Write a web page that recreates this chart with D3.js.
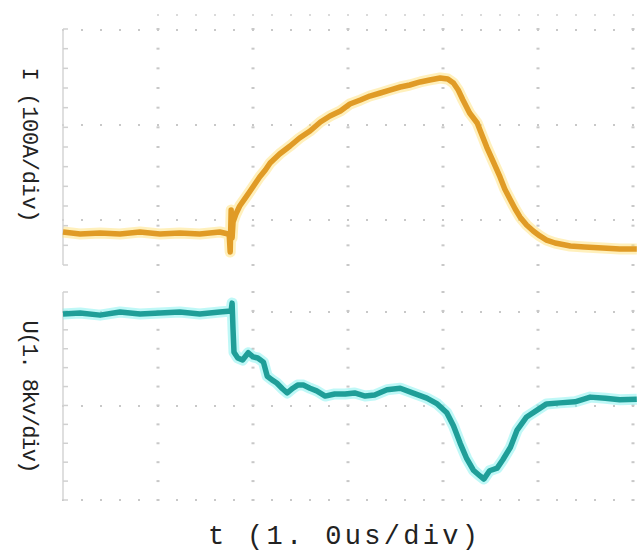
<!DOCTYPE html>
<html>
<head>
<meta charset="utf-8">
<script src="https://cdn.jsdelivr.net/npm/d3@7"></script>
<style>
  html, body { margin: 0; padding: 0; background: #fff; }
  svg { display: block; }
</style>
</head>
<body>
<div id="chart"></div>
<script>
// time in us, current in A (grid line at 0 A), voltage in kV
const timeI = [0.00, 0.18, 0.39, 0.60, 0.81, 1.02, 1.23, 1.44, 1.65, 1.74, 1.75, 1.76, 1.77, 1.78, 1.79,
  1.82, 1.86, 1.92, 1.97, 2.02, 2.07, 2.13, 2.18, 2.28, 2.39, 2.49, 2.60, 2.71, 2.81, 2.92, 3.02,
  3.13, 3.23, 3.34, 3.44, 3.55, 3.65, 3.76, 3.86, 3.97, 4.05, 4.11, 4.16, 4.21, 4.28, 4.36, 4.41,
  4.46, 4.53, 4.60, 4.65, 4.71, 4.76, 4.81, 4.88, 4.95, 5.02, 5.09, 5.18, 5.34, 5.49, 5.68, 5.86, 6.04];
const current = [-12.6, -14.7, -13.7, -14.7, -12.6, -14.7, -13.7, -14.7, -12.6, -14.7, -16.8, -33.7, 10.5, -18.9, -2.1,
  6.3, 14.7, 23.2, 30.5, 37.9, 45.3, 52.6, 60.0, 69.5, 77.9, 86.3, 93.7, 103.2, 109.5, 114.7, 122.1,
  126.3, 130.5, 133.7, 136.8, 140.0, 142.1, 145.3, 147.4, 149.5, 148.4, 144.2, 136.8, 126.3, 112.6, 102.1, 89.5,
  76.8, 61.1, 45.3, 32.6, 21.1, 11.6, 3.2, -5.3, -11.6, -16.8, -21.1, -24.2, -27.4, -28.4, -29.5, -30.5, -30.5];

const timeU = [0.00, 0.18, 0.39, 0.60, 0.81, 1.02, 1.23, 1.44, 1.65, 1.77, 1.78, 1.79, 1.80, 1.84, 1.89,
  1.95, 2.00, 2.05, 2.11, 2.15, 2.20, 2.25, 2.31, 2.36, 2.42, 2.47, 2.53, 2.60, 2.67, 2.76, 2.86,
  2.97, 3.07, 3.18, 3.28, 3.41, 3.55, 3.68, 3.83, 3.94, 4.04, 4.11, 4.18, 4.25, 4.32, 4.39, 4.43,
  4.49, 4.57, 4.63, 4.71, 4.78, 4.88, 4.99, 5.09, 5.23, 5.39, 5.55, 5.71, 5.86, 6.04];
const voltage = [3.56, 3.58, 3.54, 3.60, 3.56, 3.58, 3.60, 3.56, 3.60, 3.62, 3.77, 3.26, 2.83, 2.72, 2.68,
  2.82, 2.74, 2.72, 2.64, 2.37, 2.30, 2.24, 2.13, 2.05, 2.14, 2.20, 2.20, 2.14, 2.09, 1.99, 2.03,
  2.03, 2.05, 1.99, 2.01, 2.11, 2.14, 2.05, 1.95, 1.84, 1.67, 1.42, 1.09, 0.79, 0.57, 0.46, 0.40,
  0.56, 0.61, 0.77, 1.01, 1.34, 1.59, 1.72, 1.84, 1.86, 1.88, 1.97, 1.95, 1.92, 1.93];

const timeDivs = [0, 1, 2, 3, 4, 5, 6];
const currentDivs = [0, 100, 200];
const voltageDivs = [0, 1.8, 3.6];

const width = 639, height = 553;
const svg = d3.select("#chart").append("svg")
  .attr("width", width)
  .attr("height", height);

const x = d3.scaleLinear().domain([0, 6]).range([63, 633]);
const yI = d3.scaleLinear().domain([0, 100]).range([220, 125]);
const yU = d3.scaleLinear().domain([0, 1.8]).range([500, 406]);

const gridColor = "#c8c8c8";
const minorStep = 0.2;

// draws one scope screen: dotted major lines, ticked left edge
function drawGrid(y, rows, top, bottom, withBottomRow) {
  const g = svg.append("g");
  const tMinor = d3.range(0, 6.06, minorStep);
  // horizontal rows of dots
  rows.forEach(v => {
    g.selectAll(null)
      .data(tMinor)
      .enter().append("rect")
      .attr("x", d => x(d) - 1)
      .attr("y", y(v) - 1)
      .attr("width", 2)
      .attr("height", 2)
      .attr("fill", gridColor);
  });
  if (withBottomRow) {
    g.selectAll(null)
      .data(tMinor)
      .enter().append("rect")
      .attr("x", d => x(d) - 1)
      .attr("y", bottom - 1)
      .attr("width", 2)
      .attr("height", 2)
      .attr("fill", gridColor);
  }
  // vertical columns of small ticks
  const yTicks = d3.range(y.invert(bottom), y.invert(top) + 1e-6, (y.invert(top) - y.invert(bottom)) / Math.round((bottom - top) / 19));
  timeDivs.slice(1).forEach(t => {
    g.selectAll(null)
      .data(yTicks)
      .enter().append("rect")
      .attr("x", x(t) - 1.5)
      .attr("y", d => y(d) - 1)
      .attr("width", 3)
      .attr("height", 2)
      .attr("fill", gridColor);
  });
  // left edge
  g.append("line")
    .attr("x1", x(0)).attr("x2", x(0))
    .attr("y1", top).attr("y2", bottom)
    .attr("stroke", "#d4d4d4")
    .attr("stroke-width", 1.5);
  g.selectAll(null)
    .data(yTicks)
    .enter().append("line")
    .attr("x1", x(0)).attr("x2", x(0) + 5)
    .attr("y1", d => y(d)).attr("y2", d => y(d))
    .attr("stroke", "#d0d0d0")
    .attr("stroke-width", 1.5);
}

drawGrid(yI, currentDivs, 29, 265, false);
drawGrid(yU, voltageDivs, 292, 500, true);

// faint partial row above the upper screen
svg.append("g").selectAll("rect")
  .data(d3.range(1, 6.06, minorStep))
  .enter().append("rect")
  .attr("x", d => x(d) - 1)
  .attr("y", 14)
  .attr("width", 2)
  .attr("height", 2)
  .attr("fill", "#dadada");

function drawTrace(times, values, y, glow, main) {
  const pts = times.map((t, i) => [t, values[i]]);
  const line = d3.line()
    .x(d => x(d[0]))
    .y(d => y(d[1]));
  svg.append("path")
    .datum(pts)
    .attr("d", line)
    .attr("fill", "none")
    .attr("stroke", glow)
    .attr("stroke-width", 11)
    .attr("stroke-linejoin", "round")
    .attr("stroke-opacity", 0.5);
  svg.append("path")
    .datum(pts)
    .attr("d", line)
    .attr("fill", "none")
    .attr("stroke", main)
    .attr("stroke-width", 5.5)
    .attr("stroke-linejoin", "round");
}

drawTrace(timeI, current, yI, "#ffe27a", "#e09b26");
drawTrace(timeU, voltage, yU, "#7ff2f0", "#1f9e98");

// labels
const font = "'Liberation Mono', 'DejaVu Sans Mono', monospace";
svg.append("text")
  .attr("transform", "translate(28,145) rotate(90)")
  .attr("text-anchor", "middle")
  .attr("dominant-baseline", "central")
  .attr("font-family", font)
  .attr("font-size", 22)
  .attr("fill", "#222")
  .attr("textLength", 155)
  .attr("lengthAdjust", "spacing")
  .text("I (100A/div)");

svg.append("text")
  .attr("transform", "translate(28,397) rotate(90)")
  .attr("text-anchor", "middle")
  .attr("dominant-baseline", "central")
  .attr("font-family", font)
  .attr("font-size", 22)
  .attr("fill", "#222")
  .attr("textLength", 153)
  .attr("lengthAdjust", "spacing")
  .text("U(1. 8kv/div)");

svg.append("text")
  .attr("x", 208)
  .attr("y", 544)
  .attr("font-family", font)
  .attr("font-size", 27)
  .attr("fill", "#222")
  .attr("textLength", 270)
  .attr("lengthAdjust", "spacing")
  .text("t (1. 0us/div)");
</script>
</body>
</html>
